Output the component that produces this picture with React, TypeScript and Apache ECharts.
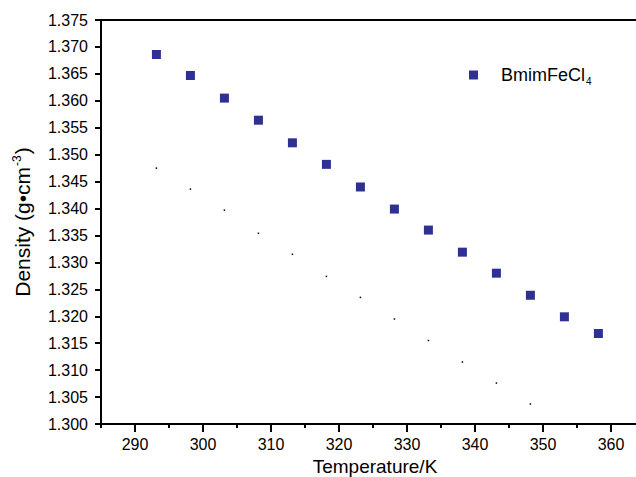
import React, { useEffect, useRef } from 'react';
import * as echarts from 'echarts';

const seriesName = 'BmimFeCl4';
const temperatures = [293.15, 298.15, 303.15, 308.15, 313.15, 318.15, 323.15, 328.15, 333.15, 338.15, 343.15, 348.15, 353.15, 358.15];
const densities = [1.3686, 1.3647, 1.3605, 1.3564, 1.3522, 1.3482, 1.344, 1.3399, 1.336, 1.3319, 1.328, 1.3239, 1.3199, 1.3168];
const dotTemperatures = [293.15, 298.15, 303.15, 308.15, 313.15, 318.15, 323.15, 328.15, 333.15, 338.15, 343.15, 348.15];
const dotValues = [1.3475, 1.3436, 1.3397, 1.3354, 1.3315, 1.3274, 1.3235, 1.3195, 1.3155, 1.3115, 1.3076, 1.3037];
const xMajorTicks = [290, 300, 310, 320, 330, 340, 350, 360];
const xMinorTicks = [285, 295, 305, 315, 325, 335, 345, 355];

const FONT = 'Arial, "Liberation Sans", sans-serif';
const AXIS_COLOR = '#000000';
const MARK_COLOR = '#2E3192';

export default function App() {
  const ref = useRef<HTMLDivElement>(null);
  useEffect(() => {
    document.body.style.margin = '0';
    if (!ref.current) return;
    const chart = echarts.init(ref.current, undefined, { renderer: 'svg' });
    const xBase = { type: 'value', min: 285, max: 363.68, interval: 5, gridIndex: 0 };
    chart.setOption({
      animation: false,
      backgroundColor: '#ffffff',
      grid: { left: 101, top: 20, bottom: 53, right: 0, containLabel: false, outerBoundsMode: 'none' },
      legend: {
        data: [seriesName],
        left: 464,
        top: 61,
        itemWidth: 9,
        itemHeight: 9,
        icon: 'rect',
        formatter: () => '{a|BmimFeCl}{b|4}',
        textStyle: {
          fontFamily: FONT,
          color: '#000',
          rich: {
            a: { fontFamily: FONT, fontSize: 18, color: '#000', padding: [0, 0, 0, 18] },
            b: { fontFamily: FONT, fontSize: 10, color: '#000', padding: [12, 0, 0, 1] },
          },
        },
      },
      xAxis: [
        {
          ...xBase,
          position: 'bottom',
          name: 'Temperature/K',
          nameLocation: 'middle',
          nameGap: 33,
          nameTextStyle: { fontFamily: FONT, fontSize: 19, color: '#000', padding: [0, 0, 0, 13] },
          axisLine: { show: true, lineStyle: { color: AXIS_COLOR, width: 2 } },
          axisTick: { show: true, length: 4, customValues: xMinorTicks, lineStyle: { color: AXIS_COLOR, width: 2 } },
          axisLabel: { show: true, customValues: xMajorTicks, margin: 12, fontFamily: FONT, fontSize: 16, color: '#000' },
          splitLine: { show: false },
        },
        {
          ...xBase,
          position: 'bottom',
          axisLine: { show: false },
          axisTick: { show: true, length: 8, customValues: xMajorTicks, lineStyle: { color: AXIS_COLOR, width: 2 } },
          axisLabel: { show: false },
          splitLine: { show: false },
        },
        {
          ...xBase,
          position: 'top',
          axisLine: { show: true, lineStyle: { color: AXIS_COLOR, width: 2 } },
          axisTick: { show: false },
          axisLabel: { show: false },
          splitLine: { show: false },
        },
      ],
      yAxis: [
        {
          type: 'value',
          min: 1.3,
          max: 1.375,
          interval: 0.005,
          position: 'left',
          name: '{a|Density (g•cm}{b|-3}{a|)}',
          nameLocation: 'middle',
          nameGap: 67,
          nameRotate: 90,
          nameTextStyle: {
            fontFamily: FONT,
            fontSize: 21,
            color: '#000',
            rich: {
              a: { fontFamily: FONT, fontSize: 21, color: '#000' },
              b: { fontFamily: FONT, fontSize: 12, color: '#000', padding: [0, 1, 11, 1] },
            },
          },
          axisLine: { show: true, lineStyle: { color: AXIS_COLOR, width: 2 } },
          axisTick: { show: true, length: 6, lineStyle: { color: AXIS_COLOR, width: 2 } },
          axisLabel: {
            margin: 13,
            fontFamily: FONT,
            fontSize: 16,
            color: '#000',
            formatter: (v: number) => v.toFixed(3),
          },
          splitLine: { show: false },
        },
      ],
      series: [
        {
          name: seriesName,
          type: 'scatter',
          xAxisIndex: 0,
          yAxisIndex: 0,
          symbol: 'rect',
          symbolSize: 9,
          itemStyle: { color: MARK_COLOR, opacity: 1 },
          data: temperatures.map((t, i) => [t, densities[i]]),
        },
        {
          name: 'dots',
          type: 'scatter',
          xAxisIndex: 0,
          yAxisIndex: 0,
          symbol: 'rect',
          symbolSize: 1.5,
          itemStyle: { color: '#000', opacity: 1 },
          data: dotTemperatures.map((t, i) => [t, dotValues[i]]),
        },
      ],
    });
    return () => chart.dispose();
  }, []);
  return <div ref={ref} style={{ position: 'fixed', left: 0, top: 0, width: 636, height: 477 }} />;
}
